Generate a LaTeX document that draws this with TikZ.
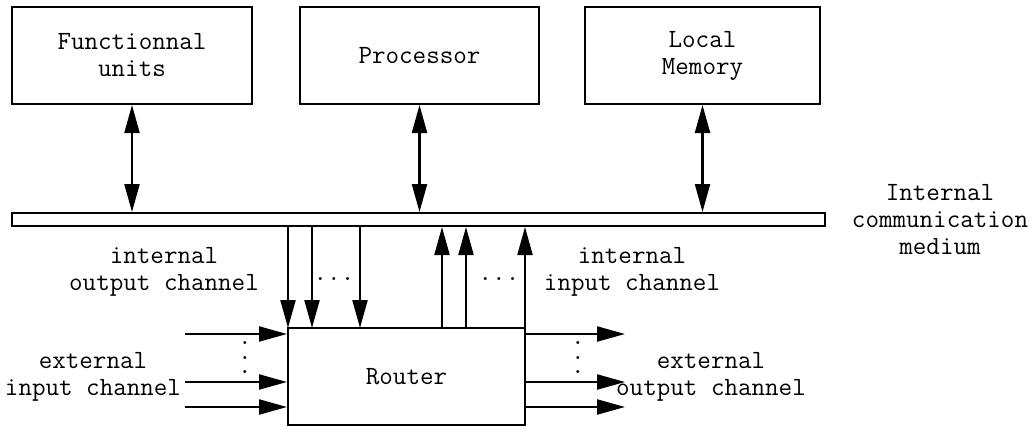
\documentclass[tikz,border=0pt]{standalone}
\usepackage{fontspec}
\usetikzlibrary{arrows.meta}
\begin{document}
\begin{tikzpicture}[x=1pt,y=-1pt,
  box/.style={draw,line width=2pt,inner sep=0pt,align=center,font=\ttfamily\fontsize{26.3}{27}\selectfont},
  lbl/.style={inner sep=0pt,align=center,font=\ttfamily\fontsize{26.3}{27}\selectfont},
  dotlbl/.style={inner sep=0pt,font=\ttfamily\fontsize{26.3}{27}\selectfont},
  vdots/.style={inner sep=0pt,align=center,font=\ttfamily\fontsize{26.3}{14.5}\selectfont},
  arr/.style={line width=2.2pt,-{Triangle[length=28pt,width=15pt]}},
  darr/.style={line width=2.2pt,{Triangle[length=28pt,width=15pt]}-{Triangle[length=28pt,width=15pt]}}]
\useasboundingbox (0,0) rectangle (1036,431);
% top boxes
\node[box,minimum width=240pt,minimum height=97pt] (fu) at (132,55.5) {Functionnal\\units};
\node[box,minimum width=239pt,minimum height=97pt] (proc) at (419.5,55.5) {Processor};
\node[box,minimum width=235pt,minimum height=97pt] (mem) at (702.5,55.5) {Local\\Memory};
% bus
\node[box,minimum width=813pt,minimum height=13pt] (bus) at (418.5,219.5) {};
\node[lbl] (buslbl) at (940,220) {Internal\\communication\\medium};
% router
\node[box,minimum width=237pt,minimum height=97pt] (router) at (406.5,376.5) {Router};
% double arrows
\draw[darr] (fu.south) -- (fu.south |- bus.north);
\draw[darr] (proc.south) -- (proc.south |- bus.north);
\draw[darr] (mem.south) -- (mem.south |- bus.north);
% internal output channels (down)
\coordinate (d1) at (288,328);
\coordinate (d2) at (312,328);
\coordinate (d3) at (360,328);
\draw[arr] (bus.south -| d1) -- (d1);
\draw[arr] (bus.south -| d2) -- (d2);
\draw[arr] (bus.south -| d3) -- (d3);
\node[dotlbl] (ddots) at (334,279) {...};
\node[lbl] (iolbl) at (164,271.5) {internal\\output channel};
% internal input channels (up)
\coordinate (u1) at (442,328);
\coordinate (u2) at (466,328);
\coordinate (u3) at (525,328);
\draw[arr] (u1) -- (bus.south -| u1);
\draw[arr] (u2) -- (bus.south -| u2);
\draw[arr] (u3) -- (bus.south -| u3);
\node[dotlbl] (udots) at (499,279) {...};
\node[lbl] (iilbl) at (632,271.5) {internal\\input channel};
% external input channels
\coordinate (i1) at (185,334);
\coordinate (i2) at (185,382);
\coordinate (i3) at (185,407);
\draw[arr] (i1) -- (i1 -| router.west);
\draw[arr] (i2) -- (i2 -| router.west);
\draw[arr] (i3) -- (i3 -| router.west);
\node[vdots] (lv) at (245,358) {.\\.\\.};
\node[lbl] (eilbl) at (93,377) {external\\input channel};
% external output channels
\coordinate (o1) at (625,334);
\coordinate (o2) at (625,382);
\coordinate (o3) at (625,407);
\draw[arr] (o1 -| router.east) -- (o1);
\draw[arr] (o2 -| router.east) -- (o2);
\draw[arr] (o3 -| router.east) -- (o3);
\node[vdots] (rv) at (578,358) {.\\.\\.};
\node[lbl] (eolbl) at (711,377) {external\\output channel};
\end{tikzpicture}
\end{document}
